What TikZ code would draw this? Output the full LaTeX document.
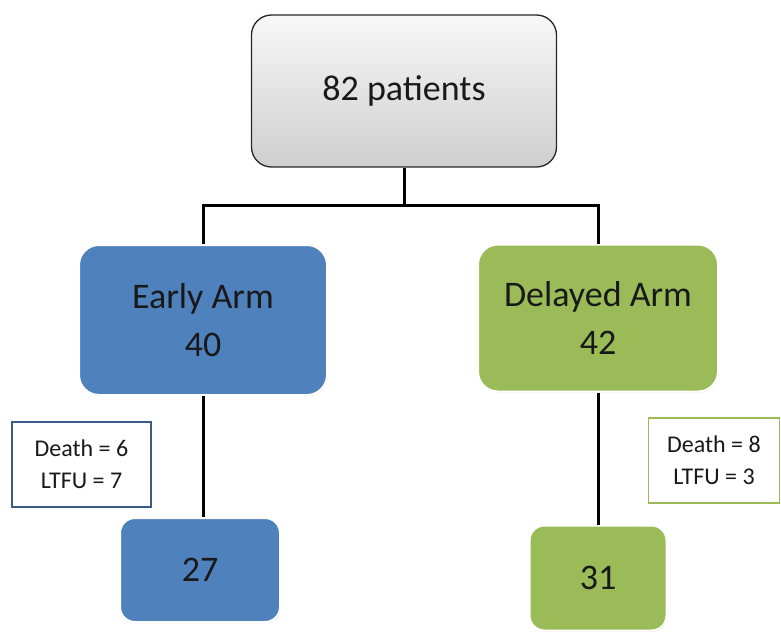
\documentclass[tikz,border=0pt]{standalone}
\usepackage{fontspec}
\setmainfont{Carlito}
\usepackage{xcolor}
\usetikzlibrary{shadows}

\definecolor{armblue}{HTML}{4F81BD}
\definecolor{armgreen}{HTML}{9BBB59}
\definecolor{lossblue}{HTML}{385D8A}

\begin{document}
\begin{tikzpicture}[x=1pt,y=-1pt]
				\useasboundingbox (0,0) rectangle (781,632);

				\begin{scope}[every node/.style={align=center,inner sep=0pt,text=black!90,
				              font=\fontsize{36}{48}\selectfont}]
				    \node[rounded corners=20pt,draw=black!85,line width=1.3pt,
				          top color=gray!6,bottom color=gray!38,
				          minimum width=305pt,minimum height=152pt]  (all) at (404,91) {82 patients};
				    \node[rounded corners=20pt,fill=armblue,draw=white,line width=2pt,
				          drop shadow={opacity=0.25,shadow xshift=0.8pt,shadow yshift=-1pt},
				          minimum width=248pt,minimum height=150pt]  (early) at (203,320) {Early Arm\\40};
				    \node[rounded corners=20pt,fill=armgreen,draw=white,line width=2pt,
				          drop shadow={opacity=0.25,shadow xshift=0.8pt,shadow yshift=-1pt},
				          minimum width=240pt,minimum height=147pt]  (delayed) at (598,318) {Delayed Arm\\42};
				    \node[rounded corners=15pt,fill=armblue,draw=white,line width=2pt,
				          drop shadow={opacity=0.25,shadow xshift=0.8pt,shadow yshift=-1pt},
				          minimum width=160pt,minimum height=104pt]  (earlyend) at (200,570) {27};
				    \node[rounded corners=15pt,fill=armgreen,draw=white,line width=2pt,
				          drop shadow={opacity=0.25,shadow xshift=0.8pt,shadow yshift=-1pt},
				          minimum width=137pt,minimum height=105pt]  (delayedend) at (598,578) {31};
				\end{scope}

				\begin{scope}[every node/.style={align=center,inner sep=0pt,text=black!90,fill=white,
				              line width=1.5pt,minimum height=85pt,font=\fontsize{24}{32}\selectfont}]
				    \node[draw=lossblue,minimum width=139pt]  (earlyloss) at (81.5,464.5) {Death = 6\\LTFU = 7};
				    \node[draw=armgreen,minimum width=131pt]  (delayedloss) at (714,460.5) {Death = 8\\LTFU = 3};
				\end{scope}

				\coordinate (split) at (404,205);

				\begin{scope}[every path/.style={draw=black,line width=3pt}]
				    \path (all.south) -- (split);
				    \path (split) -| (early.north);
				    \path (split) -| (delayed.north);
				    \path (early.south) -- (early.south |- earlyend.north);
				    \path (delayed.south) -- (delayed.south |- delayedend.north);
				\end{scope}
				\end{tikzpicture}
\end{document}
